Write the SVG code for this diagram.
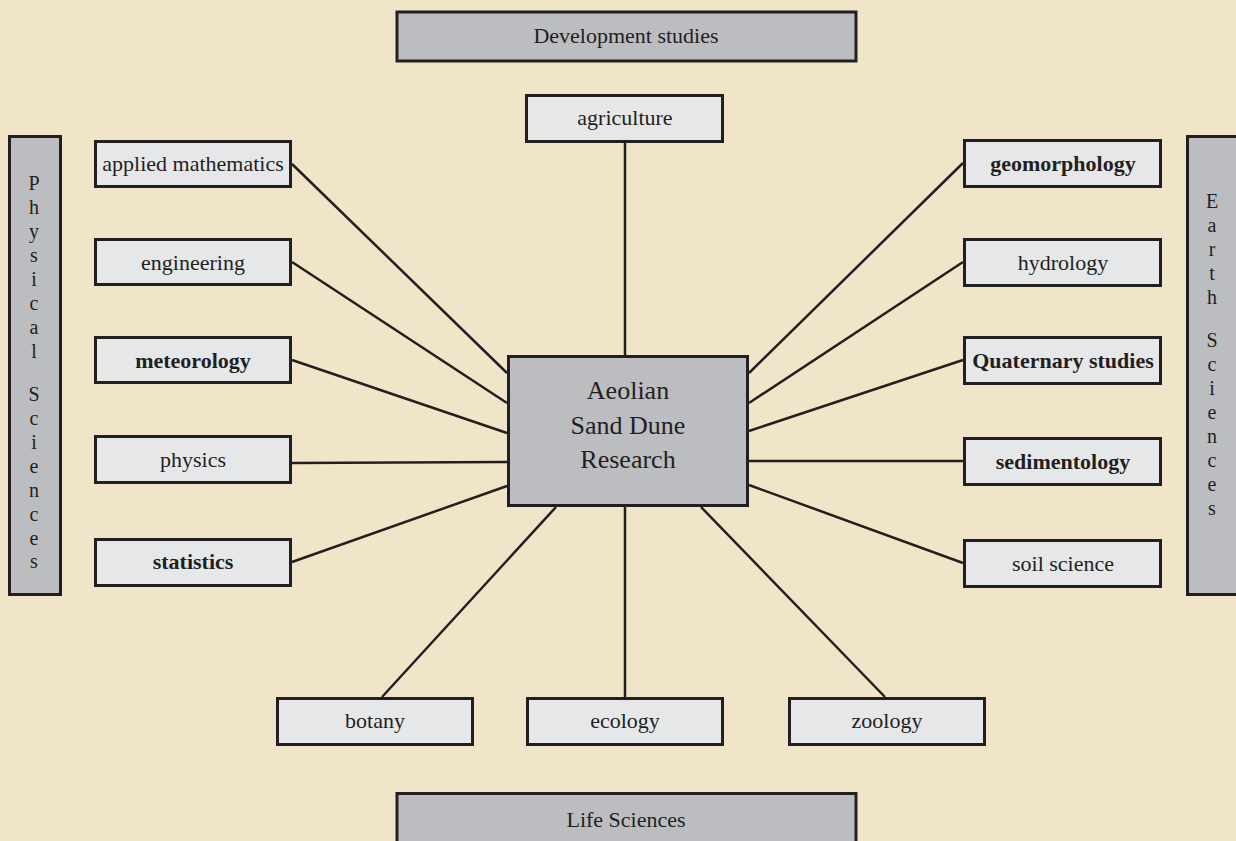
<svg xmlns="http://www.w3.org/2000/svg" width="1236" height="841" viewBox="0 0 1236 841">
<style>
.bg{fill:#f0e5c9}
.grp{fill:#bcbdc0;stroke:#231f20;stroke-width:3}
.box{fill:#e6e7e9;stroke:#231f20;stroke-width:3}
.ctr{fill:#bcbdc0;stroke:#231f20;stroke-width:3}
.t{font-family:"Liberation Serif","Times New Roman",serif;font-size:22px;fill:#231f20;text-anchor:middle}
.b{font-weight:bold}
.c{font-size:26px}
.v{font-family:"Liberation Serif","Times New Roman",serif;font-size:20px;fill:#231f20;text-anchor:middle}
#connectors line{stroke:#231f20;stroke-width:2.5}
</style>
<rect class="bg" x="0" y="0" width="1236" height="841"/>

<g id="connectors">
<line x1="625" y1="143" x2="625" y2="355"/>
<line x1="292" y1="164" x2="507" y2="373"/>
<line x1="292" y1="262" x2="507" y2="403"/>
<line x1="292" y1="360" x2="507" y2="433"/>
<line x1="292" y1="463" x2="507" y2="462"/>
<line x1="292" y1="562" x2="507" y2="486"/>
<line x1="963" y1="163" x2="749" y2="373"/>
<line x1="963" y1="262" x2="749" y2="403"/>
<line x1="963" y1="360" x2="749" y2="431"/>
<line x1="963" y1="461" x2="749" y2="461"/>
<line x1="963" y1="563" x2="749" y2="485"/>
<line x1="382" y1="697" x2="556" y2="507"/>
<line x1="625" y1="697" x2="625" y2="507"/>
<line x1="885" y1="697" x2="701" y2="507"/>
</g>

<g id="development-studies">
<rect class="grp" x="397" y="12" width="459" height="49"/>
<text class="t" x="626" y="43">Development studies</text>
</g>
<g id="life-sciences">
<rect class="grp" x="397" y="793.5" width="459" height="60"/>
<text class="t" x="626" y="827">Life Sciences</text>
</g>
<g id="physical-sciences">
<rect class="grp" x="9.5" y="136.5" width="51" height="458"/>
<text class="v"><tspan x="34" y="190">P</tspan><tspan x="34" y="214">h</tspan><tspan x="34" y="238">y</tspan><tspan x="34" y="262">s</tspan><tspan x="34" y="286">i</tspan><tspan x="34" y="310">c</tspan><tspan x="34" y="334">a</tspan><tspan x="34" y="358">l</tspan><tspan x="34" y="401">S</tspan><tspan x="34" y="425">c</tspan><tspan x="34" y="449">i</tspan><tspan x="34" y="473">e</tspan><tspan x="34" y="497">n</tspan><tspan x="34" y="521">c</tspan><tspan x="34" y="545">e</tspan><tspan x="34" y="568">s</tspan></text>
</g>
<g id="earth-sciences">
<rect class="grp" x="1187.5" y="136.5" width="60" height="458"/>
<text class="v"><tspan x="1212" y="208">E</tspan><tspan x="1212" y="232">a</tspan><tspan x="1212" y="256">r</tspan><tspan x="1212" y="280">t</tspan><tspan x="1212" y="304">h</tspan><tspan x="1212" y="347">S</tspan><tspan x="1212" y="371">c</tspan><tspan x="1212" y="395">i</tspan><tspan x="1212" y="419">e</tspan><tspan x="1212" y="443">n</tspan><tspan x="1212" y="467">c</tspan><tspan x="1212" y="491">e</tspan><tspan x="1212" y="515">s</tspan></text>
</g>

<g id="center">
<rect class="ctr" x="508.5" y="356.5" width="239" height="149"/>
<text class="t c" x="628" y="399">Aeolian</text>
<text class="t c" x="628" y="434">Sand Dune</text>
<text class="t c" x="628" y="468">Research</text>
</g>

<g id="agriculture">
<rect class="box" x="526.5" y="95.5" width="196" height="46"/>
<text class="t" x="625" y="125">agriculture</text>
</g>

<g id="applied-mathematics">
<rect class="box" x="95.5" y="141.5" width="195" height="45"/>
<text class="t" x="193" y="171">applied mathematics</text>
</g>
<g id="engineering">
<rect class="box" x="95.5" y="239.5" width="195" height="45"/>
<text class="t" x="193" y="270">engineering</text>
</g>
<g id="meteorology">
<rect class="box" x="95.5" y="337.5" width="195" height="45"/>
<text class="t b" x="193" y="368">meteorology</text>
</g>
<g id="physics">
<rect class="box" x="95.5" y="436.5" width="195" height="46"/>
<text class="t" x="193" y="467">physics</text>
</g>
<g id="statistics">
<rect class="box" x="95.5" y="539.5" width="195" height="46"/>
<text class="t b" x="193" y="569">statistics</text>
</g>

<g id="geomorphology">
<rect class="box" x="964.5" y="140.5" width="196" height="46"/>
<text class="t b" x="1063" y="171">geomorphology</text>
</g>
<g id="hydrology">
<rect class="box" x="964.5" y="239.5" width="196" height="46"/>
<text class="t" x="1063" y="270">hydrology</text>
</g>
<g id="quaternary-studies">
<rect class="box" x="964.5" y="337.5" width="196" height="46"/>
<text class="t b" x="1063" y="368">Quaternary studies</text>
</g>
<g id="sedimentology">
<rect class="box" x="964.5" y="438.5" width="196" height="46"/>
<text class="t b" x="1063" y="469">sedimentology</text>
</g>
<g id="soil-science">
<rect class="box" x="964.5" y="540.5" width="196" height="46"/>
<text class="t" x="1063" y="571">soil science</text>
</g>

<g id="botany">
<rect class="box" x="277.5" y="698.5" width="195" height="46"/>
<text class="t" x="375" y="728">botany</text>
</g>
<g id="ecology">
<rect class="box" x="527.5" y="698.5" width="195" height="46"/>
<text class="t" x="625" y="728">ecology</text>
</g>
<g id="zoology">
<rect class="box" x="789.5" y="698.5" width="195" height="46"/>
<text class="t" x="887" y="728">zoology</text>
</g>
</svg>
